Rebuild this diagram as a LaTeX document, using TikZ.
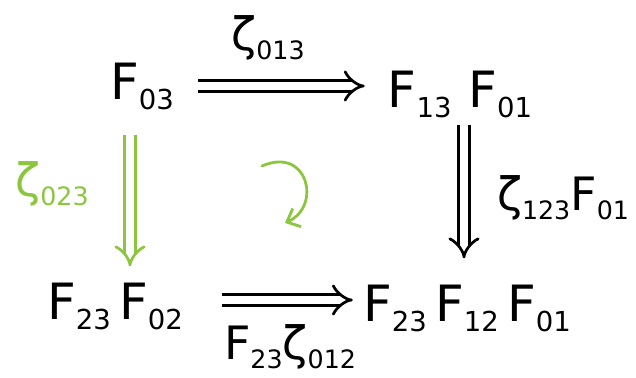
\documentclass[tikz,border=0pt]{standalone}
\usepackage{fontspec}
\setmainfont{DejaVu Sans}
\usetikzlibrary{arrows.meta}
\definecolor{limegreen}{RGB}{140,198,63}
\newcommand{\ix}[1]{\raisebox{-0.2em}{\scalebox{0.55}{#1}}}

\begin{document}
\begin{tikzpicture}[x=1pt,y=-1pt,
    obj/.style={inner sep=2pt, font=\fontsize{50}{60}\selectfont},
    lbl/.style={inner sep=1pt, font=\fontsize{46}{55}\selectfont},
    imp/.style={double, double distance=8pt, line width=2.7pt, -{Implies}},
    curl/.style={color=limegreen, line width=2.8pt, line cap=round,
        -{Straight Barb[length=11pt,width=20pt,line width=2.8pt]}}]
        \useasboundingbox (0,0) rectangle (636,377);
        % corners
        \node[obj] (f03) at (142,86) {F\ix{03}};
        \node[obj] (f13) at (460,94) {F\ix{13}\,\,F\ix{01}};
        \node[obj] (f02) at (115,306) {F\ix{23}\,F\ix{02}};
        \node[obj] (f12) at (467,308) {F\ix{23}\,F\ix{12}\,F\ix{01}};

        % arrows
        \draw[imp] ([xshift=22pt]f03.east) -- ([xshift=-21pt]f03.east -| f13.west);
        \draw[imp] ([xshift=4pt,yshift=-5pt]f13.south) -- ([xshift=4pt,yshift=24pt]f13.south |- f12.north);
        \draw[imp] ([xshift=37pt,yshift=6pt]f02.east) -- ([xshift=-8pt,yshift=6pt]f02.east -| f12.west);
        \draw[imp, color=limegreen] ([xshift=-12pt,yshift=-23pt]f03.south) -- ([xshift=-12pt,yshift=14pt]f03.south |- f02.north);

        % labels
        \node[lbl] (z013) at (268,38) {ζ\ix{013}};
        \node[lbl] (z123) at (563,198) {ζ\ix{123}F\ix{01}};
        \node[lbl] (z012) at (290,347) {F\ix{23}ζ\ix{012}};
        \node[lbl, color=limegreen] (z023) at (52,184) {ζ\ix{023}};

        % 2-cell
        \draw[curl] (262,166) .. controls (308,146) and (322,206) .. (285,223);
\end{tikzpicture}
\end{document}
